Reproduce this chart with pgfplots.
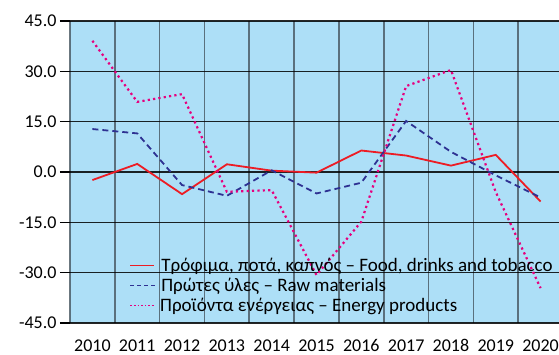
\documentclass[border=0pt]{standalone}
\usepackage{pgfplots}
\pgfplotsset{compat=1.18}
\usepackage{fontspec}
\setmainfont{Carlito}
\usetikzlibrary{calc}

\definecolor{bgblue}{RGB}{173,223,247}
\definecolor{gridgray}{RGB}{70,85,95}
\definecolor{foodred}{RGB}{237,28,36}
\definecolor{rawblue}{RGB}{46,49,146}
\definecolor{energypink}{RGB}{230,0,126}

% Annual change (%) by product group
\pgfplotstableread{
x year food  raw   energy
0 2010 -2.4  12.8  39.1
1 2011  2.4  11.5  20.9
2 2012 -6.6  -3.9  23.2
3 2013  2.3  -7.1  -5.9
4 2014  0.4   0.5  -5.4
5 2015 -0.2  -6.4 -30.7
6 2016  6.4  -3.2 -14.8
7 2017  4.9  15.2  25.6
8 2018  1.9   6.0  30.4
9 2019  5.1  -1.0  -6.0
10 2020 -8.8 -7.6 -34.6
}\datatable

% legend samples set as coloured rules in the entry text
\newcommand\seg[1]{\rule[0.27em]{#1}{1.3pt}}
\newcommand\solidsample{\textcolor{foodred}{\seg{24pt}}\hspace{7pt}}
\newcommand\dashsample{\textcolor{rawblue}{\seg{4pt}\hspace{3pt}\seg{4pt}\hspace{3pt}\seg{4pt}\hspace{3pt}\seg{4pt}}\hspace{6pt}}
\newcommand\dotsample{\textcolor{energypink}{\seg{1.6pt}\hspace{2pt}\seg{1.6pt}\hspace{2pt}\seg{1.6pt}\hspace{2pt}\seg{1.6pt}\hspace{2pt}\seg{1.6pt}\hspace{2pt}\seg{1.6pt}\hspace{2pt}\seg{1.6pt}}\hspace{6.6pt}}

\begin{document}
\begin{tikzpicture}[x=1pt,y=1pt]
\begin{axis}[
  scale only axis,
  width=493pt, height=302pt,
  xmin=-0.5, xmax=10.5,
  ymin=-45, ymax=45,
  ytick={-45,-30,...,45},
  xtick={0,...,10},
  xticklabels={2010,2011,2012,2013,2014,2015,2016,2017,2018,2019,2020},
  minor xtick={-0.5,0.5,...,10.5},
  xminorgrids=true,
  ymajorgrids=true,
  minor x grid style={gridgray, line width=1.7pt, opacity=0.8},
  major y grid style={black, line width=1.1pt, opacity=0.85},
  axis line style={draw=none},
  tick align=outside,
  major tick length=10pt,
  minor tick length=0pt,
  xtick style={draw=none},
  ytick style={black, line width=1.1pt},
  yticklabel style={/pgf/number format/.cd, fixed, fixed zerofill, precision=1, /tikz/.cd, font=\fontsize{18}{21}\selectfont},
  xticklabel style={font=\fontsize{18}{21}\selectfont, yshift=-3pt},
  /pgf/number format/assume math mode=true,
  axis background/.style={fill=bgblue},
  legend cell align=left,
  legend style={draw=none, fill=none, at={(rel axis cs:0.118,0.222)}, anchor=north west,
    font=\fontsize{19}{19.5}\selectfont, row sep=1pt,
    inner xsep=0pt, inner ysep=0pt,
    /tikz/every odd column/.append style={column sep=0pt},
    /tikz/every even column/.append style={column sep=0pt}},
  legend image code/.code={},
]
\addplot[foodred, line width=1.8pt] table[x=x, y=food] {\datatable};
\addlegendentry{\solidsample Τρόφιμα, ποτά, καπνός – Food, drinks and tobacco}
\addplot[rawblue, line width=1.8pt, dash pattern=on 6pt off 4pt] table[x=x, y=raw] {\datatable};
\addlegendentry{\dashsample Πρώτες ύλες – Raw materials}
\addplot[energypink, line width=2.2pt, dash pattern=on 2.2pt off 3.2pt] table[x=x, y=energy] {\datatable};
\addlegendentry{\dotsample Προϊόντα ενέργειας – Energy products}
\end{axis}
\pgfresetboundingbox
\path ($(current axis.south west)+(-70pt,-32pt)$) rectangle ($(current axis.north east)+(-4pt,21pt)$);
\end{tikzpicture}
\end{document}
